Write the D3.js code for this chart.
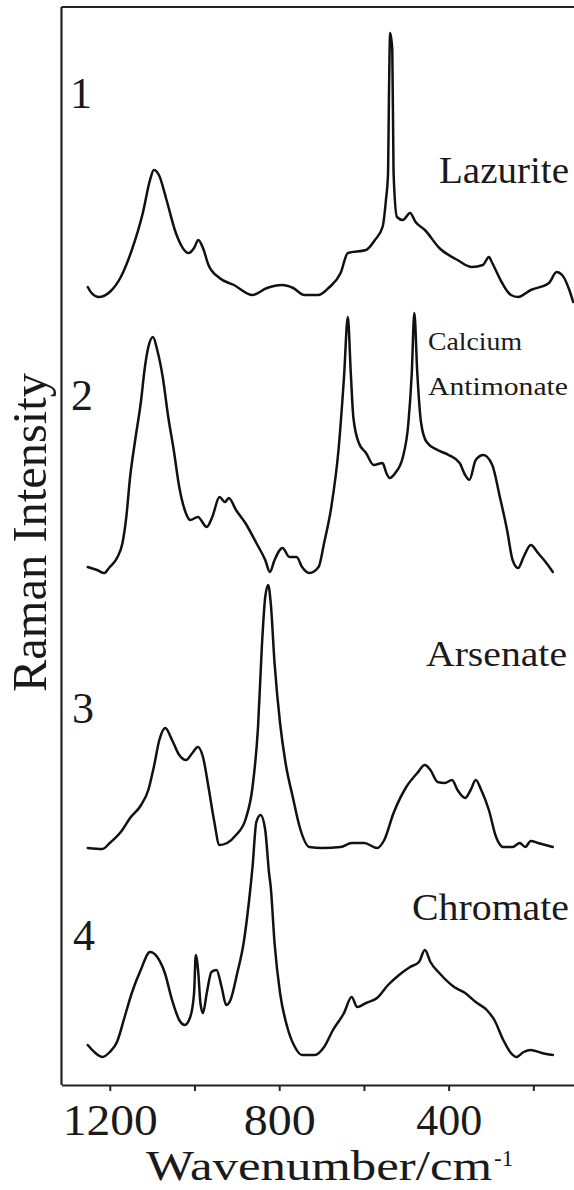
<!DOCTYPE html>
<html>
<head>
<meta charset="utf-8">
<script src="https://cdn.jsdelivr.net/npm/d3@7"></script>
<style>
  html, body { margin: 0; padding: 0; background: #fff; }
  svg { display: block; }
  text { font-family: "Liberation Serif", "Times New Roman", serif; fill: #1a1a1a; }
</style>
</head>
<body>
<svg id="chart" width="574" height="1190"></svg>
<script>
// ---- data (wavenumber in cm^-1, intensity in arbitrary units) ----
const spectrumNames = ["Lazurite", "Calcium Antimonate", "Arsenate", "Chromate"];
const spectrumNumbers = ["1", "2", "3", "4"];
const spectrumOffsets = [785, 510, 235, 25];

const wn1 = [1252,1243,1226,1200,1174,1148,1122,1105,1096,1084,1066,1044,1014,1001,991,980,967,941,907,863,829,793,767,741,707,681,655,638,595,574,556,548,543,541,538,533,530,522,508,491,478,456,422,379,345,319,305,297,275,253,236,206,163,145,132,115,106];
const int1 = [13,7,3,8,23,50,87,120,130,125,100,67,47,52,60,52,35,22,15,5,12,15,12,5,5,13,27,47,50,60,73,100,127,200,267,250,127,83,80,87,78,70,52,40,33,35,43,37,18,5,3,10,17,28,25,10,-2];

const wn2 = [1252,1230,1213,1200,1183,1170,1161,1152,1140,1126,1118,1109,1098,1088,1075,1062,1049,1036,1023,1010,992,971,958,941,928,919,902,880,854,833,822,811,792,776,759,746,729,707,694,677,660,647,638,631,625,612,595,577,556,547,539,526,508,495,487,481,474,465,452,426,400,374,361,351,336,318,297,279,262,249,236,223,206,189,171,154];
const int2 = [8,5,2,8,17,32,58,98,135,175,205,228,238,225,198,158,125,88,65,55,58,48,58,78,73,77,65,52,32,15,3,15,27,18,18,8,2,8,32,68,125,198,258,202,158,132,122,110,112,102,97,102,118,152,202,262,202,152,133,125,120,112,100,95,115,120,110,78,45,15,7,18,30,22,13,3];

const wn3 = [1252,1217,1200,1174,1152,1126,1109,1096,1083,1069,1053,1036,1020,1005,992,980,967,954,941,923,902,880,863,850,841,833,826,820,811,798,785,768,751,729,699,655,629,599,569,552,530,500,474,456,443,426,409,392,379,361,348,336,323,305,288,271,249,232,219,206,189,154];
const int3 = [2,1,7,18,32,45,60,83,110,122,110,95,90,97,103,93,63,30,5,7,15,30,63,123,203,253,265,247,187,127,87,53,22,3,2,3,7,7,2,10,37,63,77,85,80,68,67,70,60,52,60,70,60,40,13,3,3,7,3,9,7,3];

const wn4 = [1252,1234,1217,1200,1183,1165,1148,1127,1105,1088,1070,1053,1036,1023,1010,1001,997,991,986,980,971,960,948,936,925,915,899,884,871,863,854,844,833,824,820,811,798,781,763,746,716,694,673,647,629,616,595,569,543,517,491,470,456,443,422,387,361,336,310,292,271,253,240,223,206,180,154];
const int4 = [15,7,3,8,18,43,67,90,108,103,87,60,40,35,43,67,105,87,57,47,67,88,90,73,55,60,87,117,160,193,238,245,230,187,173,117,67,33,13,5,5,13,30,47,63,53,57,62,75,85,93,98,110,98,87,73,67,58,50,40,20,7,3,8,10,7,5];

const xTickValues = [1200, 1000, 800, 600, 400, 200];
const xTickLabels = ["1200", "", "800", "", "400", ""];

// ---- layout ----
const svg = d3.select("#chart");
const plotLeft = 61.5, plotRight = 574, plotTop = 7, plotBottom = 1085;

const x = d3.scaleLinear().domain([1314, 104]).range([plotLeft, plotRight]);
const y = d3.scaleLinear().domain([0, plotBottom - plotTop]).range([plotBottom, plotTop]);

const wnList = [wn1, wn2, wn3, wn4];
const intList = [int1, int2, int3, int4];

const line = d3.line()
  .x(d => x(d[0]))
  .y(d => y(d[1]))
  .curve(d3.curveMonotoneX);

wnList.forEach((wn, k) => {
  const pts = wn.map((w, i) => [w, intList[k][i] + spectrumOffsets[k]]);
  svg.append("path")
    .datum(pts)
    .attr("fill", "none")
    .attr("stroke", "#111")
    .attr("stroke-width", 2.5)
    .attr("stroke-linejoin", "round")
    .attr("stroke-linecap", "round")
    .attr("d", line);
});

// frame: left and top lines
svg.append("line").attr("x1", plotLeft).attr("x2", plotLeft).attr("y1", plotTop).attr("y2", plotBottom)
  .attr("stroke", "#222").attr("stroke-width", 2.2);
svg.append("line").attr("x1", plotLeft).attr("x2", plotRight).attr("y1", plotTop).attr("y2", plotTop)
  .attr("stroke", "#222").attr("stroke-width", 2.2);

// bottom axis
const xAxis = d3.axisBottom(x)
  .tickValues(xTickValues)
  .tickSize(6)
  .tickSizeOuter(0)
  .tickFormat((d, i) => xTickLabels[i]);

const tickLens = {1200: 95, 800: 72, 400: 66};
const gx = svg.append("g").attr("transform", `translate(0,${plotBottom})`).call(xAxis);
gx.select(".domain").attr("stroke", "#222").attr("stroke-width", 2.2);
gx.selectAll(".tick line").attr("stroke", "#222").attr("stroke-width", 2);
gx.selectAll(".tick text")
  .attr("y", 1135 - plotBottom)
  .attr("dy", 0)
  .attr("font-size", 44)
  .attr("font-family", "Liberation Serif, serif")
  .attr("fill", "#1a1a1a")
  .each(function(d) {
    if (tickLens[d]) d3.select(this).attr("textLength", tickLens[d]).attr("lengthAdjust", "spacingAndGlyphs");
  });

// axis titles
const xt = svg.append("text")
  .attr("x", 146).attr("y", 1180)
  .attr("font-size", 42);
xt.append("tspan").text("Wavenumber/cm").attr("textLength", 346).attr("lengthAdjust", "spacingAndGlyphs");
svg.append("text").attr("x", 494).attr("y", 1166).attr("font-size", 23).text("-1");

svg.append("text")
  .attr("transform", "translate(46,532.5) rotate(-90)")
  .attr("text-anchor", "middle")
  .attr("font-size", 48)
  .attr("textLength", 319)
  .attr("lengthAdjust", "spacingAndGlyphs")
  .text("Raman Intensity");

// spectrum numbers
const numPos = [[81, 108], [82, 410], [83, 723], [84, 950]];
spectrumNumbers.forEach((n, i) => {
  svg.append("text")
    .attr("x", numPos[i][0]).attr("y", numPos[i][1])
    .attr("text-anchor", "middle")
    .attr("font-size", 44)
    .text(n);
});

// spectrum names
const nameSpecs = [
  {t: spectrumNames[0], x: 569, y: 183, fs: 38, len: 130, anchor: "end"},
  {t: spectrumNames[1].split(" ")[0], x: 428, y: 350, fs: 26, len: 94, anchor: "start"},
  {t: spectrumNames[1].split(" ")[1], x: 428, y: 395, fs: 26, len: 140, anchor: "start"},
  {t: spectrumNames[2], x: 567, y: 666, fs: 36, len: 141, anchor: "end"},
  {t: spectrumNames[3], x: 569, y: 920, fs: 37, len: 157, anchor: "end"}
];
nameSpecs.forEach(s => {
  svg.append("text")
    .attr("x", s.x).attr("y", s.y)
    .attr("text-anchor", s.anchor)
    .attr("font-size", s.fs)
    .attr("textLength", s.len)
    .attr("lengthAdjust", "spacingAndGlyphs")
    .text(s.t);
});
</script>
</body>
</html>
